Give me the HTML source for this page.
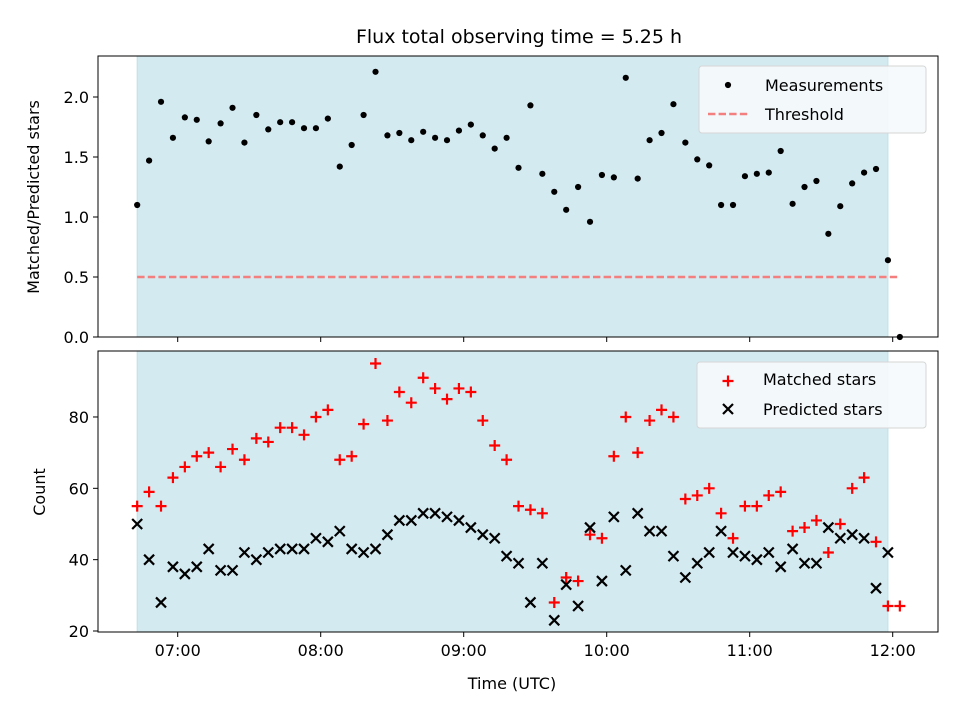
<!DOCTYPE html>
<html><head><meta charset="utf-8"><style>
body{margin:0;background:#fff}
svg{font-family:"DejaVu Sans","Liberation Sans",sans-serif}
</style></head><body>
<svg id="c" width="960" height="720" xmlns="http://www.w3.org/2000/svg"></svg>
<script>
const startTime="06:43";
const stepMinutes=[0,5,10,15,20,25,30,35,40,45,50,55,60,65,70,75,80,85,90,95,100,105,110,115,120,125,130,135,140,145,150,155,160,165,170,175,180,185,190,195,200,205,210,215,220,225,230,235,240,245,250,255,260,265,270,275,280,285,290,295,300,305,310,315,320];
const ratio=[1.10,1.47,1.96,1.66,1.83,1.81,1.63,1.78,1.91,1.62,1.85,1.73,1.79,1.79,1.74,1.74,1.82,1.42,1.60,1.85,2.21,1.68,1.70,1.64,1.71,1.66,1.64,1.72,1.77,1.68,1.57,1.66,1.41,1.93,1.36,1.21,1.06,1.25,0.96,1.35,1.33,2.16,1.32,1.64,1.70,1.94,1.62,1.48,1.43,1.10,1.10,1.34,1.36,1.37,1.55,1.11,1.25,1.30,0.86,1.09,1.28,1.37,1.40,0.64,0.00];
const matched=[55,59,55,63,66,69,70,66,71,68,74,73,77,77,75,80,82,68,69,78,95,79,87,84,91,88,85,88,87,79,72,68,55,54,53,28,35,34,47,46,69,80,70,79,82,80,57,58,60,53,46,55,55,58,59,48,49,51,42,50,60,63,45,27,27];
const predicted=[50,40,28,38,36,38,43,37,37,42,40,42,43,43,43,46,45,48,43,42,43,47,51,51,53,53,52,51,49,47,46,41,39,28,39,23,33,27,49,34,52,37,53,48,48,41,35,39,42,48,42,41,40,42,38,43,39,39,49,46,47,46,32,42,null];
const threshold=0.5;
const xTicks=["07:00","08:00","09:00","10:00","11:00","12:00"];
const topTicks=[0.0,0.5,1.0,1.5,2.0];
const botTicks=[20,40,60,80];

const NS="http://www.w3.org/2000/svg";
const svg=document.getElementById('c');
function el(t,a,p){const e=document.createElementNS(NS,t);for(const k in a)e.setAttribute(k,a[k]);(p||svg).appendChild(e);return e;}
function toMin(s){const [h,m]=s.split(':').map(Number);return h*60+m;}
const t0=toMin(startTime);
const X=m=>177.7+(m-420)*143/60;
const YT=v=>337-v*120;
const YB=v=>631-(v-20)*3.567;
const L=98,R=938;
const times=stepMinutes.map(s=>t0+s);

const shadeX1=X(times[0]),shadeX2=X(times[times.length-2]);
[[56,337],[351,632]].forEach(([a,b],i)=>{
 const r=el('rect',{x:shadeX1,y:a,width:shadeX2-shadeX1,height:b-a,fill:'#d4eaf1'});
 
 
 el('line',{x1:shadeX2,x2:shadeX2,y1:a,y2:b,stroke:'#bfe0e8','stroke-width':1});
 el('line',{x1:shadeX1,x2:shadeX1,y1:a,y2:b,stroke:'#bfe0e8','stroke-width':1});
});

const th=el('line',{x1:shadeX1,x2:X(times[times.length-1]),y1:YT(threshold),y2:YT(threshold),stroke:'#f47f7f','stroke-width':2.4,'stroke-dasharray':'7.4,3.2'});



ratio.forEach((v,i)=>{
 const c=el('circle',{cx:X(times[i]),cy:YT(v),r:3.1,fill:'#000'});
 
 
});
matched.forEach((v,i)=>{
 const x=X(times[i]),y=YB(v);
 const g=el('path',{d:`M${x-5.5},${y}H${x+5.5}M${x},${y-5.5}V${y+5.5}`,stroke:'#ff0000','stroke-width':2.2});
 
 
});
predicted.forEach((v,i)=>{
 if(v===null)return;
 const x=X(times[i]),y=YB(v);
 const g=el('path',{d:`M${x-5},${y-5}L${x+5},${y+5}M${x-5},${y+5}L${x+5},${y-5}`,stroke:'#000','stroke-width':2.2});
 
 
});

[[56,337,'top-axes-frame'],[351,632,'bottom-axes-frame']].forEach(([a,b,n])=>{
 const r=el('rect',{x:L,y:a,width:R-L,height:b-a,fill:'none',stroke:'#000','stroke-width':1});
 
 
});
xTicks.forEach(t=>{
 const x=X(toMin(t));
 el('line',{x1:x,x2:x,y1:337,y2:342,stroke:'#000'});
 el('line',{x1:x,x2:x,y1:632,y2:637,stroke:'#000'});
 const tx=el('text',{x:x,y:656,'font-size':16,'text-anchor':'middle'});tx.textContent=t;
 
 
});
topTicks.forEach(v=>{
 const y=YT(v);
 el('line',{x1:L,x2:L-5,y1:y,y2:y,stroke:'#000'});
 const tx=el('text',{x:89,y:y+6,'font-size':16,'text-anchor':'end'});tx.textContent=v.toFixed(1);
 
 
});
botTicks.forEach(v=>{
 const y=YB(v);
 el('line',{x1:L,x2:L-5,y1:y,y2:y,stroke:'#000'});
 const tx=el('text',{x:89,y:y+6,'font-size':16,'text-anchor':'end'});tx.textContent=v;
 
 
});
</script>
<svg width="960" height="720" style="position:absolute;left:0;top:0" xmlns="http://www.w3.org/2000/svg">
<g font-family="DejaVu Sans, Liberation Sans, sans-serif">
<text x="519" y="43" font-size="19" text-anchor="middle">Flux total observing time = 5.25 h</text>
<text x="512" y="689" font-size="16" text-anchor="middle">Time (UTC)</text>
<text transform="translate(39,197) rotate(-90)" font-size="16" text-anchor="middle">Matched/Predicted stars</text>
<text transform="translate(45,492) rotate(-90)" font-size="16" text-anchor="middle">Count</text>
<g>
<rect x="699" y="66" width="227" height="67" rx="3" fill="#f6fafc" fill-opacity="0.9" stroke="#d5d5d5"/>
<circle cx="728" cy="85" r="3.1" fill="#000"/>
<text x="765" y="91" font-size="16">Measurements</text>
<line x1="708" y1="114" x2="749" y2="114" stroke="#f47f7f" stroke-width="2.4" stroke-dasharray="7.4,3.2"/>
<text x="765" y="120" font-size="16">Threshold</text>
</g>
<g>
<rect x="697" y="362" width="229" height="66" rx="3" fill="#f6fafc" fill-opacity="0.9" stroke="#d5d5d5"/>
<path d="M722.5,381H733.5M728,375.5V386.5" stroke="#ff0000" stroke-width="2.2"/>
<text x="763" y="385" font-size="16">Matched stars</text>
<path d="M723,404L733,414M723,414L733,404" stroke="#000" stroke-width="2.2"/>
<text x="763" y="415" font-size="16">Predicted stars</text>
</g>
</g>
</svg>
</body></html>
